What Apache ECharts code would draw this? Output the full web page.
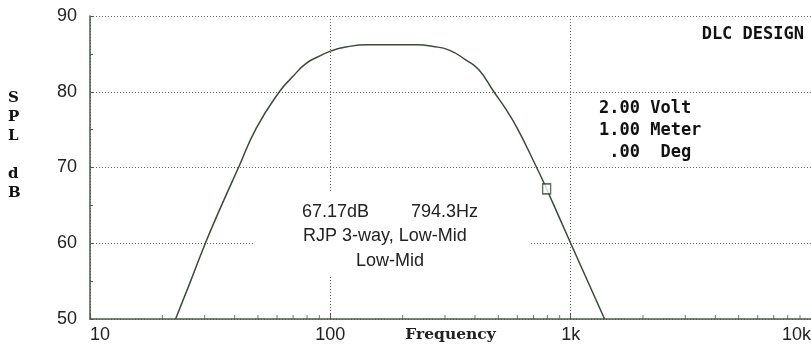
<!DOCTYPE html>
<html>
<head>
<meta charset="utf-8">
<script src="https://cdn.jsdelivr.net/npm/echarts@6/dist/echarts.min.js"></script>
<style>
  html, body { margin: 0; padding: 0; background: #fff; }
  #chart { width: 811px; height: 344px; }
</style>
</head>
<body>
<div id="chart"></div>
<script>
// SPL response curve
const freqHz = [22.7, 26, 30.2, 34.6, 41.5, 49.2, 61.4, 69.8, 79.3, 90, 100.7, 116, 142, 230, 265, 312, 366, 415, 479, 535, 599, 722, 794.3, 1000, 1384];
const splDb = [50, 54.7, 60, 64.4, 70, 75.2, 80, 82.0, 83.75, 84.7, 85.4, 85.9, 86.2, 86.2, 86.0, 85.5, 84.2, 82.9, 80, 77.8, 75.2, 70, 67.17, 60, 50];
// cursor marker
const cursorHz = [794.3];
const cursorDb = [67.17];
// axis ticks
const xTicks = [10, 100, 1000, 10000];
const xTickLabels = ["10", "100", "1k", "10k"];
const xMinorTicks = [20, 30, 40, 50, 60, 70, 80, 90, 200, 300, 400, 500, 600, 700, 800, 900, 2000, 3000, 4000, 5000, 6000, 7000, 8000, 9000];
const yMin = 50, yMax = 90, yStep = 10;

const lineColor = "#3b4a3a";
const gridColor = "#666";

const chart = echarts.init(document.getElementById("chart"));

const option = {
  animation: false,
  backgroundColor: "#fff",
  grid: { left: 90, right: 0, top: 16, bottom: 25, containLabel: false, outerBoundsMode: "none" },
  xAxis: {
    type: "log",
    logBase: 10,
    min: xTicks[0],
    max: xTicks[xTicks.length - 1],
    name: "Frequency",
    nameLocation: "middle",
    nameGap: 8,
    nameMoveOverlap: false,
    nameTextStyle: { fontFamily: "DejaVu Serif", fontWeight: "bold", fontSize: 15.5, color: "#222" },
    axisLine: { show: true, lineStyle: { color: "#4a5a48", width: 1.5 } },
    axisTick: { show: true, inside: true, length: 5, lineStyle: { color: "#4a5a48" } },
    axisLabel: {
      fontFamily: "Liberation Sans",
      fontSize: 18,
      color: "#222",
      margin: 7,
      alignMinLabel: "left",
      alignMaxLabel: "right",
      formatter: v => {
        const i = xTicks.findIndex(t => Math.abs(t - v) / t < 1e-6);
        return i >= 0 ? xTickLabels[i] : "";
      }
    },
    splitLine: { show: true, lineStyle: { color: gridColor, type: [1, 2], width: 1 } }
  },
  yAxis: {
    type: "value",
    min: yMin,
    max: yMax,
    interval: yStep,
    axisLine: { show: true, lineStyle: { color: "#4a5a48", width: 1.5 } },
    axisTick: { show: true, inside: true, length: 3, lineStyle: { color: "#4a5a48" } },
    minorTick: { show: true, splitNumber: 2, length: 3, lineStyle: { color: "#4a5a48" } },
    axisLabel: { fontFamily: "Liberation Sans", fontSize: 18, color: "#222", margin: 13 },
    splitLine: { show: true, lineStyle: { color: gridColor, type: [1, 2], width: 1 } }
  },
  graphic: [
    // white box behind the cursor readout, hides the grid there
    { type: "rect", z: 1, shape: { x: 255, y: 193, width: 275, height: 83 }, style: { fill: "#fff" } },
    { type: "text", z: 3, left: 302, top: 203, style: { text: "67.17dB", font: "18px 'Liberation Sans'", fill: "#222" } },
    { type: "text", z: 3, right: 811 - 478, top: 203, style: { text: "794.3Hz", font: "18px 'Liberation Sans'", fill: "#222", textAlign: "right" } },
    { type: "text", z: 3, left: 303, top: 227, style: { text: "RJP 3-way, Low-Mid", font: "18px 'Liberation Sans'", fill: "#222" } },
    { type: "text", z: 3, left: 356, top: 252, style: { text: "Low-Mid", font: "18px 'Liberation Sans'", fill: "#222" } },
    // header block
    { type: "text", z: 3, right: 7, top: 26, style: { text: "DLC DESIGN", font: "bold 17px 'DejaVu Sans Mono'", fill: "#111" } },
    { type: "text", z: 3, left: 599, top: 98, style: { text: "2.00 Volt\n1.00 Meter\n .00  Deg", font: "bold 17px 'DejaVu Sans Mono'", fill: "#111", lineHeight: 22 } },
    // vertical axis title
    { type: "text", z: 3, left: 8, top: 89, style: { text: "S\nP\nL\n\nd\nB", font: "bold 15px 'DejaVu Serif'", fill: "#111", lineHeight: 19 } }
  ],
  series: [
    {
      name: "SPL",
      type: "line",
      data: freqHz.map((f, i) => [f, splDb[i]]),
      showSymbol: false,
      smooth: 0.5,
      z: 4,
      lineStyle: { color: lineColor, width: 1.5 }
    },
    {
      name: "cursor",
      type: "scatter",
      data: cursorHz.map((f, i) => [f, cursorDb[i]]),
      symbol: "rect",
      symbolSize: [8, 10],
      z: 5,
      itemStyle: { color: "#fff", borderColor: lineColor, borderWidth: 1.5 }
    },
    {
      name: "minorTicks",
      type: "scatter",
      data: xMinorTicks.map(f => [f, yMin]),
      symbol: "rect",
      symbolSize: [1, 4],
      symbolOffset: [0, -2],
      clip: false,
      silent: true,
      z: 3,
      itemStyle: { color: "#4a5a48" }
    }
  ]
};

chart.setOption(option);
</script>
</body>
</html>
